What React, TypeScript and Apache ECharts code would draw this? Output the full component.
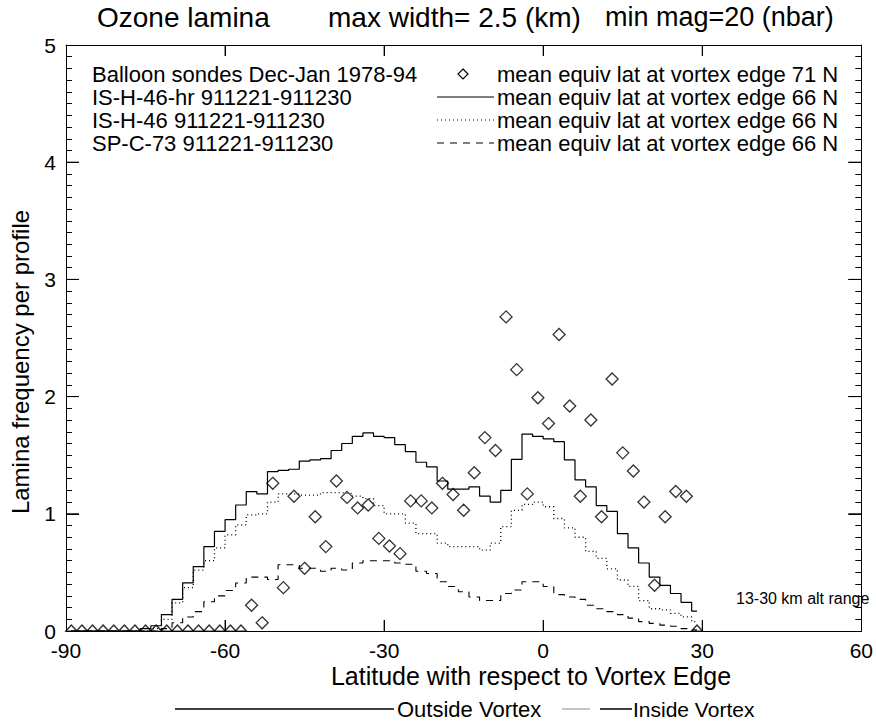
import React, { useEffect, useRef } from "react";
import * as echarts from "echarts";

const latitudes = [
  -89, -87, -85, -83, -81, -79, -77, -75, -73, -71, -69, -67, -65, -63, -61, -59, -57, -55, -53, -51,
  -49, -47, -45, -43, -41, -39, -37, -35, -33, -31, -29, -27, -25, -23, -21, -19, -17, -15, -13, -11,
  -9, -7, -5, -3, -1, 1, 3, 5, 7, 9, 11, 13, 15, 17, 19, 21, 23, 25, 27, 29,
];

const balloonSondes = [
  0, 0, 0, 0, 0, 0, 0, 0, 0, 0, 0, 0, 0, 0, 0, 0, 0, 0.22, 0.07, 1.26,
  0.37, 1.15, 0.535, 0.975, 0.72, 1.28, 1.14, 1.05, 1.075, 0.79, 0.725, 0.66, 1.11, 1.11, 1.05, 1.26, 1.165, 1.03, 1.35, 1.65,
  1.54, 2.68, 2.23, 1.17, 1.99, 1.77, 2.53, 1.92, 1.15, 1.8, 0.975, 2.15, 1.52, 1.365, 1.1, 0.39, 0.975, 1.19, 1.15, 0,
];

const isH46hr = [
  0, 0, 0, 0, 0, 0, 0, 0.02, 0.045, 0.14, 0.27, 0.41, 0.55, 0.72, 0.85, 0.95, 1.075, 1.19, 1.17, 1.36,
  1.37, 1.38, 1.45, 1.46, 1.47, 1.54, 1.6, 1.66, 1.69, 1.66, 1.65, 1.59, 1.53, 1.44, 1.4, 1.28, 1.21, 1.21, 1.23, 1.15,
  1.1, 1.2, 1.465, 1.68, 1.66, 1.64, 1.615, 1.46, 1.29, 1.23, 1.07, 1.02, 0.83, 0.71, 0.58, 0.46, 0.39, 0.32, 0.245, 0.17,
];

const isH46 = [
  0, 0, 0, 0, 0, 0, 0, 0, 0.02, 0.1, 0.24, 0.37, 0.52, 0.6, 0.71, 0.82, 0.905, 0.99, 1.0, 1.1,
  1.17, 1.17, 1.16, 1.16, 1.18, 1.18, 1.175, 1.15, 1.13, 1.07, 1.0, 1.0, 0.92, 0.83, 0.83, 0.75, 0.72, 0.72, 0.72, 0.69,
  0.75, 0.89, 1.03, 1.08, 1.1, 1.06, 0.96, 0.88, 0.8, 0.68, 0.62, 0.53, 0.435, 0.38, 0.26, 0.19, 0.18, 0.15, 0.12, 0.08,
];

const spC73 = [
  0, 0, 0, 0, 0, 0, 0, 0, 0, 0.02, 0.07, 0.12, 0.165, 0.25, 0.3, 0.345, 0.41, 0.46, 0.46, 0.44,
  0.565, 0.565, 0.535, 0.535, 0.51, 0.535, 0.52, 0.58, 0.6, 0.6, 0.6, 0.58, 0.57, 0.51, 0.49, 0.42, 0.38, 0.335, 0.29, 0.26,
  0.26, 0.32, 0.35, 0.42, 0.42, 0.38, 0.31, 0.29, 0.27, 0.22, 0.19, 0.165, 0.14, 0.11, 0.08, 0.065, 0.05, 0.04, 0.02, 0.01,
];

const xMajorTicks = [-60, -30, 0, 30];
const yMajorTicks = [1, 2, 3, 4];

const leftLegend = [
  "Balloon sondes Dec-Jan 1978-94",
  "IS-H-46-hr 911221-911230",
  "IS-H-46 911221-911230",
  "SP-C-73 911221-911230",
];
const rightLegend = [
  "mean equiv lat at vortex edge 71 N",
  "mean equiv lat at vortex edge 66 N",
  "mean equiv lat at vortex edge 66 N",
  "mean equiv lat at vortex edge 66 N",
];

const FONT = "'Liberation Sans', Arial, Helvetica, sans-serif";

function makeX(position: "top" | "bottom", showLabel: boolean) {
  return {
    type: "value",
    position,
    min: -90,
    max: 60,
    interval: 30,
    axisLine: { show: true, onZero: false, lineStyle: { color: "#000", width: 1 } },
    splitLine: { show: false },
    axisTick: { show: true, inside: true, length: 11, lineStyle: { color: "#000", width: 1 } },
    axisLabel: { show: showLabel, margin: 9, color: "#000", fontSize: 21, fontFamily: FONT },
  };
}

function makeY(position: "left" | "right", showLabel: boolean) {
  return {
    type: "value",
    position,
    min: 0,
    max: 5,
    interval: 1,
    axisLine: { show: true, onZero: false, lineStyle: { color: "#000", width: 1 } },
    splitLine: { show: false },
    axisTick: { show: true, inside: true, length: 13, lineStyle: { color: "#000", width: 1 } },
    minorTick: { show: true, splitNumber: 10, length: 6, lineStyle: { color: "#000" } },
    axisLabel: { show: showLabel, margin: 10, color: "#000", fontSize: 21, fontFamily: FONT },
  };
}

export default function App() {
  const ref = useRef<HTMLDivElement>(null);

  useEffect(() => {
    if (!ref.current) return;
    const chart = echarts.init(ref.current, undefined, { renderer: "svg" });

    const lineData = (vals: number[]) => latitudes.map((x, i) => [x, vals[i]]);
    const scatterData = latitudes.map((x, i) => {
      const v = balloonSondes[i];
      if (v === 0) {
        return { value: [x, v], symbol: "triangle", symbolSize: [11, 6], symbolOffset: [0, -3] };
      }
      return { value: [x, v] };
    });

    const legendY = [74, 97, 120, 143];

    const graphics: any[] = [
      { type: "text", left: 97, top: 3, style: { text: "Ozone lamina", font: `28px ${FONT}`, fill: "#000" } },
      { type: "text", left: 328, top: 3, style: { text: "max width= 2.5 (km)", font: `28px ${FONT}`, fill: "#000" } },
      { type: "text", left: 605, top: 3, style: { text: "min mag=20 (nbar)", font: `27px ${FONT}`, fill: "#000" } },
      { type: "text", x: 736, y: 598, style: { text: "13-30 km alt range", font: `16px ${FONT}`, fill: "#000", verticalAlign: "middle" } },
      { type: "text", x: 531, y: 676, style: { text: "Latitude with respect to Vortex Edge", font: `25px ${FONT}`, fill: "#000", align: "center", verticalAlign: "middle" } },
      { type: "text", x: 20, y: 362, rotation: Math.PI / 2, style: { text: "Lamina frequency per profile", font: `24px ${FONT}`, fill: "#000", align: "center", verticalAlign: "middle" } },
      // bottom region legend
      { type: "line", shape: { x1: 175, y1: 709, x2: 394, y2: 709 }, style: { stroke: "#000", lineWidth: 1.5 } },
      { type: "text", x: 397, y: 709, style: { text: "Outside Vortex", font: `22px ${FONT}`, fill: "#000", verticalAlign: "middle" } },
      { type: "line", shape: { x1: 562, y1: 709, x2: 590, y2: 709 }, style: { stroke: "#888", lineWidth: 1 } },
      { type: "line", shape: { x1: 600, y1: 709, x2: 632, y2: 709 }, style: { stroke: "#000", lineWidth: 1.5 } },
      { type: "text", x: 633, y: 709, style: { text: "Inside Vortex", font: `21px ${FONT}`, fill: "#000", verticalAlign: "middle" } },
      // in-plot legend symbols
      { type: "polygon", shape: { points: [[463, 69], [468, 74], [463, 79], [458, 74]] }, style: { fill: "none", stroke: "#000", lineWidth: 1.2 } },
      { type: "line", shape: { x1: 437, y1: legendY[1], x2: 494, y2: legendY[1] }, style: { stroke: "#000", lineWidth: 1 } },
      { type: "line", shape: { x1: 437, y1: legendY[2], x2: 494, y2: legendY[2] }, style: { stroke: "#000", lineWidth: 1.2, lineDash: [1, 3] } },
      { type: "line", shape: { x1: 437, y1: legendY[3], x2: 494, y2: legendY[3] }, style: { stroke: "#000", lineWidth: 1, lineDash: [7, 6] } },
    ];
    leftLegend.forEach((t, i) => {
      graphics.push({ type: "text", x: 92, y: legendY[i], style: { text: t, font: `22px ${FONT}`, fill: "#000", verticalAlign: "middle" } });
    });
    rightLegend.forEach((t, i) => {
      graphics.push({ type: "text", x: 497, y: legendY[i], style: { text: t, font: `22px ${FONT}`, fill: "#000", verticalAlign: "middle" } });
    });

    const tickStyle = { stroke: "#000", lineWidth: 1 };

    chart.setOption({
      animation: false,
      backgroundColor: "#fff",
      grid: { left: 66, right: 14, top: 45, bottom: 96 },
      xAxis: [makeX("bottom", true), makeX("top", false)],
      yAxis: [makeY("left", true), makeY("right", false)],
      series: [
        {
          name: "xTicks",
          type: "custom",
          silent: true,
          clip: false,
          data: xMajorTicks.map((v) => [v, 0]),
          encode: { x: 0, y: 1 },
          renderItem: (params: any, api: any) => {
            const v = api.value(0);
            const b = api.coord([v, 0]);
            const t = api.coord([v, 5]);
            return {
              type: "group",
              children: [
                { type: "line", shape: { x1: b[0], y1: b[1], x2: b[0], y2: b[1] - 11 }, style: tickStyle },
                { type: "line", shape: { x1: t[0], y1: t[1], x2: t[0], y2: t[1] + 11 }, style: tickStyle },
              ],
            };
          },
        },
        {
          name: "yTicks",
          type: "custom",
          silent: true,
          clip: false,
          data: yMajorTicks.map((v) => [-90, v]),
          encode: { x: 0, y: 1 },
          renderItem: (params: any, api: any) => {
            const v = api.value(1);
            const l = api.coord([-90, v]);
            const r = api.coord([60, v]);
            return {
              type: "group",
              children: [
                { type: "line", shape: { x1: l[0], y1: l[1], x2: l[0] + 13, y2: l[1] }, style: tickStyle },
                { type: "line", shape: { x1: r[0], y1: r[1], x2: r[0] - 13, y2: r[1] }, style: tickStyle },
              ],
            };
          },
        },
        {
          name: "IS-H-46-hr",
          type: "line",
          step: "middle",
          data: lineData(isH46hr),
          showSymbol: false,
          lineStyle: { color: "#000", width: 1.2 },
        },
        {
          name: "IS-H-46",
          type: "line",
          step: "middle",
          data: lineData(isH46),
          showSymbol: false,
          lineStyle: { color: "#000", width: 1.3, type: [1, 3] },
        },
        {
          name: "SP-C-73",
          type: "line",
          step: "middle",
          data: lineData(spC73),
          showSymbol: false,
          lineStyle: { color: "#000", width: 1.1, type: [7, 6] },
        },
        {
          name: "Balloon sondes",
          type: "scatter",
          data: scatterData,
          symbol: "diamond",
          symbolSize: 12,
          itemStyle: { color: "rgba(0,0,0,0)", borderColor: "#000", borderWidth: 1.3 },
          z: 5,
        },
      ],
      graphic: graphics,
    });

    return () => chart.dispose();
  }, []);

  return <div ref={ref} style={{ position: "fixed", left: 0, top: 0, width: 876, height: 727, background: "#fff" }} />;
}
